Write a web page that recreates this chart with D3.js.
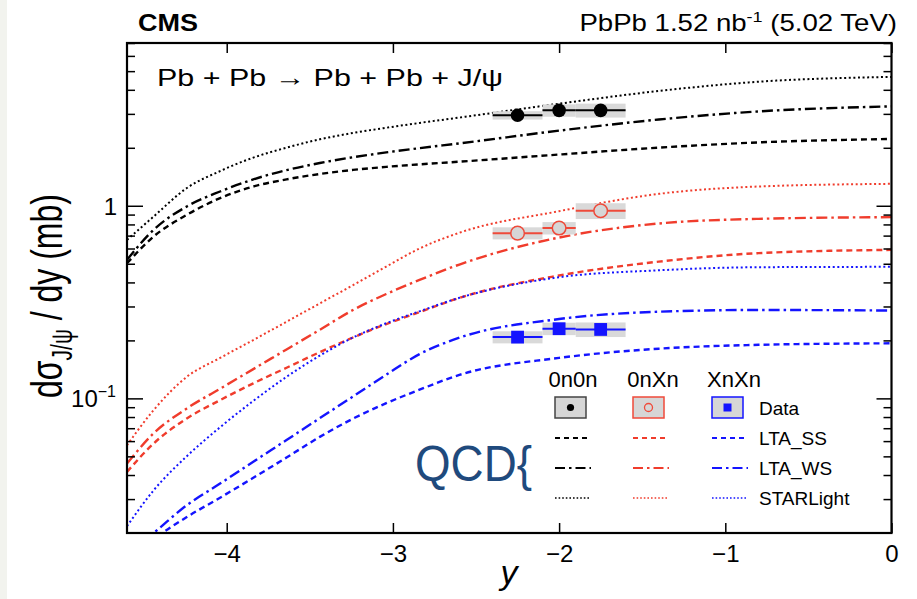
<!DOCTYPE html>
<html><head><meta charset="utf-8">
<script src="https://cdn.jsdelivr.net/npm/d3@7"></script>
<style>
body{margin:0;background:#fff;}
svg{display:block;font-family:"Liberation Sans",Arial,Helvetica,sans-serif;}
</style></head>
<body><svg id="c" width="917" height="599"></svg>
<script>
// ---- data ----
const yGrid = [-4.6,-4.44,-4.24,-4.04,-3.84,-3.64,-3.44,-3.24,-3.04,-2.84,-2.6,-2.0,-1.4,-0.8,0];
const lta_ss_0n0n = [0.503,0.692,0.897,1.096,1.259,1.371,1.462,1.535,1.592,1.641,1.694,1.845,2.004,2.133,2.223];
const lta_ws_0n0n = [0.524,0.750,0.992,1.186,1.371,1.531,1.667,1.786,1.892,1.991,2.109,2.455,2.805,3.090,3.281];
const starlight_0n0n = [0.665,0.879,1.236,1.514,1.778,2.004,2.213,2.388,2.541,2.692,2.871,3.388,3.945,4.406,4.667];
const lta_ss_0nXn = [0.0415,0.0583,0.0787,0.0979,0.1197,0.1442,0.1738,0.2070,0.2432,0.2805,0.3327,0.4345,0.5129,0.5675,0.5902];
const lta_ws_0nXn = [0.0459,0.0658,0.0887,0.1122,0.1419,0.1795,0.2270,0.2877,0.3483,0.4121,0.4955,0.6839,0.8091,0.8551,0.8730];
const starlight_0nXn = [0.0571,0.0869,0.1294,0.1622,0.2009,0.2500,0.3112,0.3873,0.4831,0.5998,0.7244,0.9376,1.153,1.259,1.300];
const lta_ss_XnXn = [0.0140,0.0185,0.0242,0.0305,0.0387,0.0493,0.0631,0.0785,0.0944,0.1109,0.1324,0.1622,0.1811,0.1897,0.1932];
const lta_ws_XnXn = [0.0155,0.0200,0.0279,0.0361,0.0469,0.0608,0.0789,0.1023,0.1327,0.1698,0.2065,0.2582,0.2818,0.2877,0.2858];
const starlight_XnXn = [0.0217,0.0333,0.0501,0.0708,0.0970,0.1294,0.1667,0.2070,0.2455,0.2831,0.3327,0.4256,0.4624,0.4797,0.4819];

const dataY = [-2.25,-2.0,-1.75];
const binLo = [-2.4,-2.1,-1.9];
const binHi = [-2.1,-1.9,-1.6];
const data_0n0n = [2.95,3.13,3.13];
const data_0nXn = [0.721,0.766,0.942];
const data_XnXn = [0.208,0.230,0.228];
const sys_0n0n = [0.05,0.074,0.083];
const sys_0nXn = [0.072,0.074,0.094];
const sys_XnXn = [0.072,0.074,0.087];

const xTicks = [-4,-3,-2,-1,0];
const yMajor = [0.1,1];
const yMinor = [0.03,0.04,0.05,0.06,0.07,0.08,0.09,0.2,0.3,0.4,0.5,0.6,0.7,0.8,0.9,2,3,4,5,6,7];
const legendCols = ["0n0n","0nXn","XnXn"];
const legendRows = ["Data","LTA_SS","LTA_WS","STARLight"];

// ---- drawing ----
const svg = d3.select("#c");
const L=127, R=891.5, T=43, B=533;
const x = d3.scaleLinear().domain([-4.6,0]).range([L,R]);
const y = d3.scaleLog().domain([0.02,7]).range([B,T]);

svg.append("rect").attr("x",0).attr("y",0).attr("width",7).attr("height",599).attr("fill","#f2f3ee");

const BLACK="#000", RED="#f03c2c", BLUE="#1414ff";
const cols=[BLACK,RED,BLUE];
const dashes={ss:"6,4", ws:"11,4,2.5,4", st:"2,2.6"};
const series=[
 {v:lta_ss_0n0n,c:BLACK,d:dashes.ss,w:2.4},{v:lta_ws_0n0n,c:BLACK,d:dashes.ws,w:2.4},{v:starlight_0n0n,c:BLACK,d:dashes.st,w:2},
 {v:lta_ss_0nXn,c:RED,d:dashes.ss,w:2.4},{v:lta_ws_0nXn,c:RED,d:dashes.ws,w:2.4},{v:starlight_0nXn,c:RED,d:dashes.st,w:2},
 {v:lta_ss_XnXn,c:BLUE,d:dashes.ss,w:2.4},{v:lta_ws_XnXn,c:BLUE,d:dashes.ws,w:2.4},{v:starlight_XnXn,c:BLUE,d:dashes.st,w:2}
];
svg.append("clipPath").attr("id","clip").append("rect").attr("x",L).attr("y",T).attr("width",R-L).attr("height",B-T);
const gc = svg.append("g").attr("clip-path","url(#clip)");
const line = d3.line().x(d=>x(d[0])).y(d=>y(d[1])).curve(d3.curveMonotoneX);
series.forEach(s=>{
  gc.append("path").attr("d",line(yGrid.map((g,i)=>[g,s.v[i]])))
    .attr("fill","none").attr("stroke",s.c).attr("stroke-width",s.w).attr("stroke-dasharray",s.d);
});

// data
const dsets=[
 {v:data_0n0n,s:sys_0n0n,c:BLACK,m:"fc"},
 {v:data_0nXn,s:sys_0nXn,c:"#ee4a3a",m:"oc"},
 {v:data_XnXn,s:sys_XnXn,c:BLUE,m:"sq"}
];
dsets.forEach(ds=>{
  const g=svg.append("g");
  dataY.forEach((yy,i)=>{
    const v=ds.v[i], s=ds.s[i];
    g.append("rect").attr("x",x(binLo[i])).attr("width",x(binHi[i])-x(binLo[i]))
     .attr("y",y(v*(1+s))).attr("height",y(v*(1-s))-y(v*(1+s))).attr("fill","#d9d9d9");
  });
  dataY.forEach((yy,i)=>{
    g.append("line").attr("x1",x(binLo[i])).attr("x2",x(binHi[i])).attr("y1",y(ds.v[i])).attr("y2",y(ds.v[i]))
     .attr("stroke",ds.c).attr("stroke-width",2);
  });
  dataY.forEach((yy,i)=>{
    const cx=x(yy), cy=y(ds.v[i]);
    if(ds.m==="fc") g.append("circle").attr("cx",cx).attr("cy",cy).attr("r",6.8).attr("fill",BLACK);
    else if(ds.m==="oc") g.append("circle").attr("cx",cx).attr("cy",cy).attr("r",6.8).attr("fill","#d6d6d6").attr("stroke",ds.c).attr("stroke-width",1.5);
    else g.append("rect").attr("x",cx-6.4).attr("y",cy-6.4).attr("width",12.8).attr("height",12.8).attr("fill",BLUE);
  });
});

// axes
function styleAxis(g){ g.select(".domain").remove(); g.selectAll("line").attr("stroke","#000").attr("stroke-width",1.5); }
svg.append("g").attr("transform",`translate(0,${B})`)
  .call(d3.axisBottom(x).tickValues(xTicks).tickSize(-10).tickPadding(12).tickFormat(d=>d===0?"0":"\u2212"+Math.abs(d)))
  .call(styleAxis).selectAll("text").attr("font-size",24).attr("fill","#000").attr("font-family","Liberation Sans, Arial, sans-serif");
svg.append("g").attr("transform",`translate(0,${T})`)
  .call(d3.axisTop(x).tickValues(xTicks).tickSize(-10).tickFormat("")).call(styleAxis);
svg.append("g").attr("transform",`translate(${L},0)`)
  .call(d3.axisLeft(y).tickValues(yMajor).tickSize(-16).tickFormat("")).call(styleAxis);
svg.append("g").attr("transform",`translate(${L},0)`)
  .call(d3.axisLeft(y).tickValues(yMinor).tickSize(-8).tickFormat("")).call(styleAxis);
svg.append("g").attr("transform",`translate(${R},0)`)
  .call(d3.axisRight(y).tickValues(yMajor).tickSize(-15).tickFormat("")).call(styleAxis);
svg.append("g").attr("transform",`translate(${R},0)`)
  .call(d3.axisRight(y).tickValues(yMinor).tickSize(-8).tickFormat("")).call(styleAxis);
svg.append("rect").attr("x",L).attr("y",T).attr("width",R-L).attr("height",B-T).attr("fill","none").attr("stroke","#000").attr("stroke-width",2.2);

// y tick labels
svg.append("text").attr("x",117).attr("y",y(1)+9).attr("text-anchor","end").attr("font-size",24).text("1");
const t01=svg.append("text").attr("x",116).attr("y",y(0.1)+9).attr("text-anchor","end").attr("font-size",24);
t01.append("tspan").text("10");
t01.append("tspan").attr("font-size",16).attr("dy",-10).text("\u22121");

// titles
svg.append("text").attr("x",138).attr("y",31).attr("font-size",23).attr("font-weight","bold")
  .attr("textLength",60).attr("lengthAdjust","spacingAndGlyphs").text("CMS");
const tr=svg.append("text").attr("transform","translate(897,31) scale(1.2,1)").attr("text-anchor","end").attr("font-size",23);
tr.append("tspan").text("PbPb 1.52 nb");
tr.append("tspan").attr("font-size",15).attr("dy",-9).text("-1");
tr.append("tspan").attr("dy",9).text(" (5.02 TeV)");
svg.append("text").attr("x",157).attr("y",86).attr("font-size",24.5)
  .attr("textLength",346).attr("lengthAdjust","spacingAndGlyphs").text("Pb + Pb \u2192 Pb + Pb + J/\u03c8");

// axis titles
const yl=svg.append("text").attr("transform","translate(62,296) scale(1.38,1) rotate(-90)").attr("text-anchor","middle").attr("font-size",32);
yl.append("tspan").text("d\u03c3");
yl.append("tspan").attr("font-size",21).attr("dy",7).text("J/\u03c8");
yl.append("tspan").attr("dy",-7).text("  / dy (mb)");
svg.append("text").attr("x",509).attr("y",584).attr("text-anchor","middle").attr("font-size",34).attr("font-style","italic").text("y");

svg.append("text").attr("x",415).attr("y",481).attr("font-size",50).attr("fill","#1f4a7d").attr("textLength",117).attr("lengthAdjust","spacingAndGlyphs").text("QCD{");

// legend
const colX=[573,653,734];
legendCols.forEach((c,i)=>svg.append("text").attr("x",colX[i]).attr("y",387).attr("text-anchor","middle").attr("font-size",22).text(c));
const rowY=[407.5,438,468,498];
legendRows.forEach((r,i)=>svg.append("text").attr("x",759).attr("y",rowY[i]+7).attr("font-size",19).text(r));
const boxStroke=["#444","#f04a3a",BLUE];
const lgX0=[555,633,712];
cols.forEach((c,i)=>{
  svg.append("rect").attr("x",lgX0[i]).attr("y",397).attr("width",31).attr("height",21).attr("fill","#d6d6d6").attr("stroke",boxStroke[i]).attr("stroke-width",1.5);
  const cx=lgX0[i]+15.5, cy=407.5;
  if(i===0) svg.append("circle").attr("cx",cx).attr("cy",cy).attr("r",3.6).attr("fill","#000");
  else if(i===1) svg.append("circle").attr("cx",cx).attr("cy",cy).attr("r",4).attr("fill","none").attr("stroke","#f04a3a").attr("stroke-width",1.3);
  else svg.append("rect").attr("x",cx-4).attr("y",cy-4).attr("width",8).attr("height",8).attr("fill",BLUE);
  [["5,4",2.2],["10,4,2.5,4",2.2],["1.6,2",1.6]].forEach((st,j)=>{
    svg.append("line").attr("x1",lgX0[i]).attr("x2",lgX0[i]+36).attr("y1",rowY[j+1]).attr("y2",rowY[j+1])
      .attr("stroke",c).attr("stroke-width",st[1]).attr("stroke-dasharray",st[0]);
  });
});
</script></body></html>
